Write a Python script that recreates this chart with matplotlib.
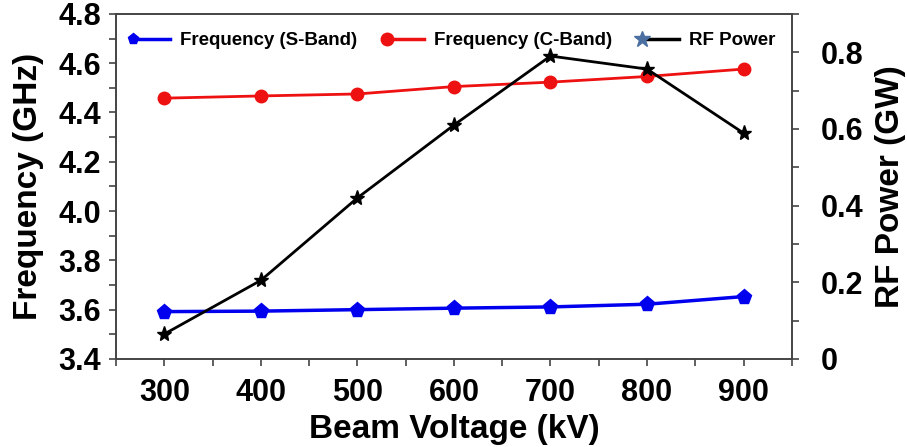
import matplotlib
matplotlib.use('Agg')
import matplotlib.pyplot as plt
from matplotlib.lines import Line2D
from matplotlib.legend_handler import HandlerLine2D
from matplotlib.ticker import MultipleLocator, FuncFormatter

plt.rcParams['font.family'] = ['Liberation Sans', 'DejaVu Sans']
plt.rcParams['font.weight'] = 'bold'

# Data
voltage = [300, 400, 500, 600, 700, 800, 900]
freq_s = [3.592, 3.594, 3.600, 3.606, 3.611, 3.622, 3.653]
freq_c = [4.458, 4.467, 4.475, 4.505, 4.523, 4.546, 4.576]
rf_power = [0.065, 0.205, 0.42, 0.61, 0.79, 0.756, 0.589]


class LeftMarkerHandler(HandlerLine2D):
    # marker at the left end of the legend line, like the original
    def create_artists(self, *args, **kwargs):
        arts = super().create_artists(*args, **kwargs)
        for a in arts:
            a.set_markevery([0])
        return arts


fig = plt.figure(figsize=(9.07, 4.47), dpi=100)
ax = fig.add_axes([0.128, 0.197, 0.745, 0.772])
ax2 = ax.twinx()

ax.plot(voltage, freq_s, '-p', color='#0000ee', lw=2.5, ms=11)
ax.plot(voltage, freq_c, '-o', color='#ee1111', lw=2, ms=9)
ax2.plot(voltage, rf_power, '-*', color='black', lw=2, ms=11)

ax.set_xlim(250, 950)
ax.set_ylim(3.4, 4.8)
ax2.set_ylim(0, 0.9)

ax.xaxis.set_major_locator(MultipleLocator(100))
ax.xaxis.set_minor_locator(MultipleLocator(50))
ax.yaxis.set_major_locator(MultipleLocator(0.2))
ax.yaxis.set_minor_locator(MultipleLocator(0.1))
ax2.yaxis.set_major_locator(MultipleLocator(0.2))
ax2.yaxis.set_minor_locator(MultipleLocator(0.1))
ax.yaxis.set_major_formatter(FuncFormatter(lambda v, p: '%.1f' % v))
ax2.yaxis.set_major_formatter(FuncFormatter(lambda v, p: '0' if abs(v) < 1e-9 else '%.1f' % v))

for a in (ax, ax2):
    for s in a.spines.values():
        s.set_color('#444444')
        s.set_linewidth(1.2)
ax.tick_params(which='both', direction='out', color='#444444', width=1.2, length=5)
ax.tick_params(which='major', labelsize=22, pad=6)
ax.tick_params(axis='x', which='major', pad=9)
ax2.tick_params(which='both', direction='out', color='#444444', width=1.2, length=5)
ax2.tick_params(which='major', labelsize=22, pad=16)

ax.set_xlabel('Beam Voltage (kV)', fontsize=24, fontweight='bold', labelpad=4)
ax.set_ylabel('Frequency (GHz)', fontsize=24, fontweight='bold', labelpad=10)
ax2.set_ylabel('RF Power (GW)', fontsize=24, fontweight='bold', labelpad=8)

handles = [
    Line2D([], [], color='#0000ee', lw=2.5, marker='p', ms=8),
    Line2D([], [], color='#ee1111', lw=2.5, marker='o', ms=9),
    Line2D([], [], color='black', lw=2.5, marker='*', ms=12,
           markerfacecolor='#4a6fa0', markeredgecolor='#4a6fa0'),
]
labels = ['Frequency (S-Band)', 'Frequency (C-Band)', 'RF Power']
ax.legend(handles, labels, loc='upper center', bbox_to_anchor=(0.5, 0.985), ncol=3,
          frameon=False, prop={'size': 13.5, 'weight': 'bold'},
          handlelength=2.0, handletextpad=0.5, columnspacing=1.6, borderaxespad=0.3,
          handler_map={Line2D: LeftMarkerHandler()})

fig.savefig('out.png', dpi=100)
